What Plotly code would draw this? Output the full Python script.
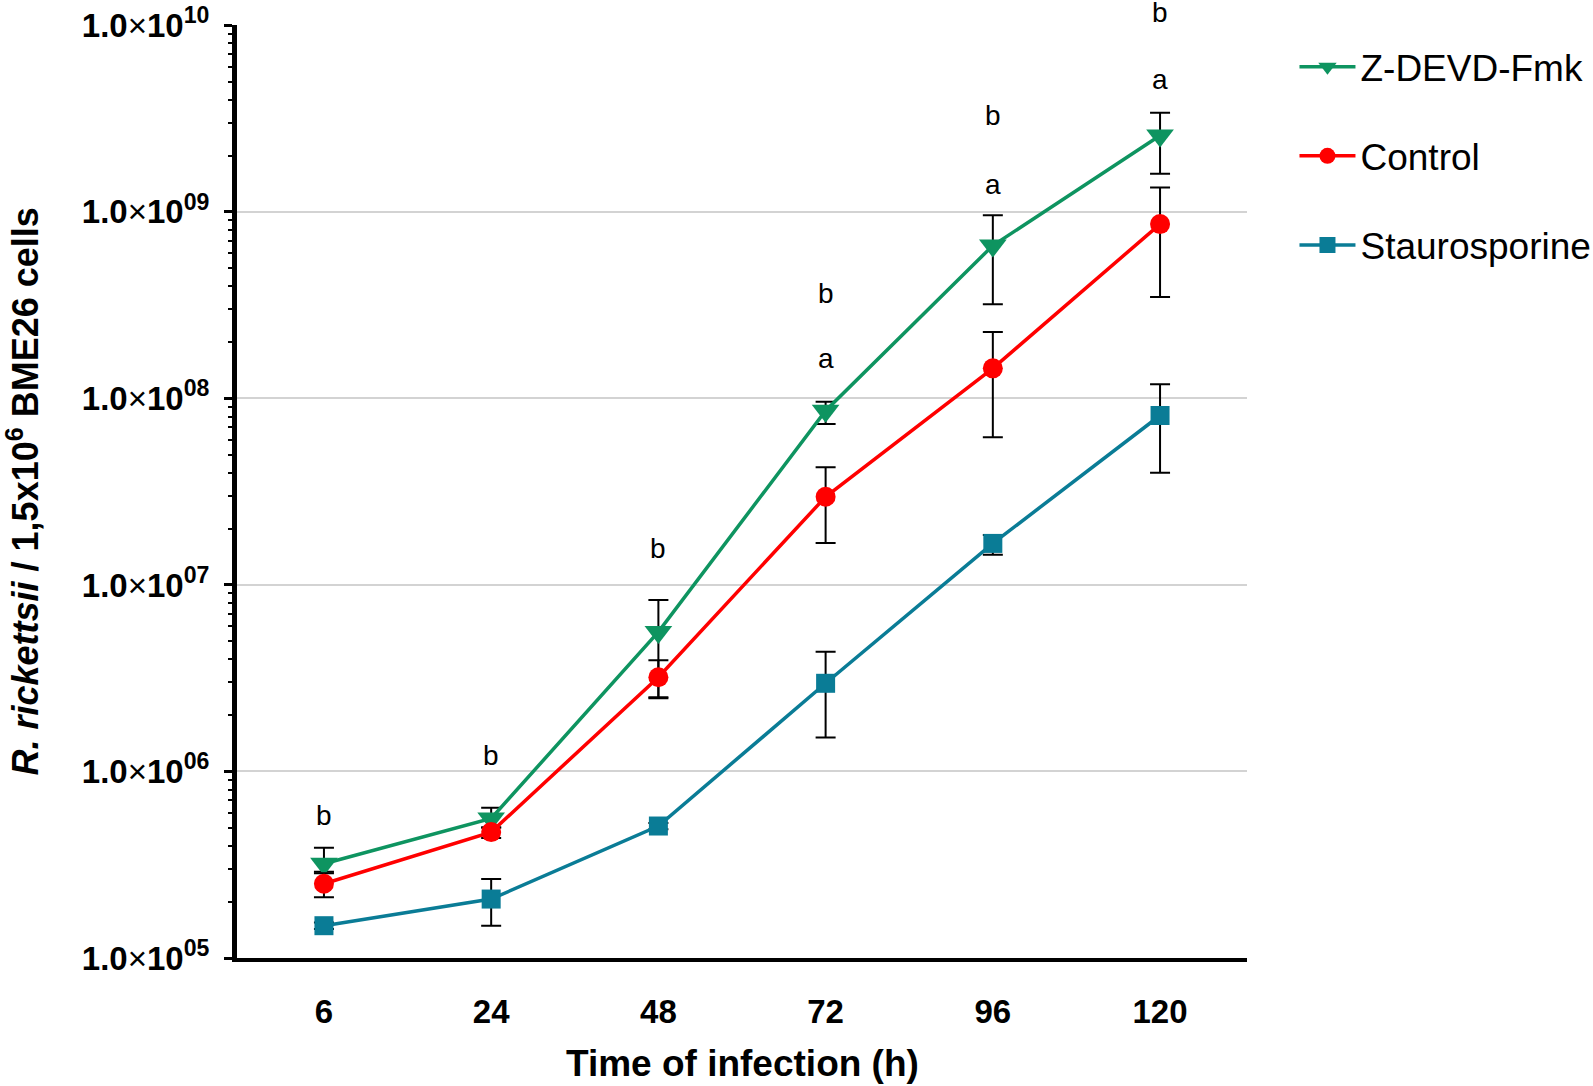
import numpy as np
import plotly.graph_objects as go

hours = ["6", "24", "48", "72", "96", "120"]

zdevd_mean = [3.2e5, 5.6e5, 5.6e6, 8.6e7, 6.6e8, 2.57e9]
zdevd_hi = [3.9e5, 6.4e5, 8.3e6, 9.6e7, 9.6e8, 3.4e9]
zdevd_lo = [2.9e5, 5.0e5, 2.5e6, 7.3e7, 3.2e8, 1.6e9]

control_mean = [2.5e5, 4.73e5, 3.2e6, 2.97e7, 1.45e8, 8.6e8]
control_hi = [2.85e5, 5.0e5, 3.95e6, 4.27e7, 2.27e8, 1.35e9]
control_lo = [2.12e5, 4.4e5, 2.47e6, 1.68e7, 6.2e7, 3.5e8]

stauro_mean = [1.49e5, 2.07e5, 5.1e5, 2.97e6, 1.67e7, 8.1e7]
stauro_hi = [1.55e5, 2.65e5, 5.3e5, 4.38e6, 1.85e7, 1.19e8]
stauro_lo = [1.43e5, 1.49e5, 4.9e5, 1.52e6, 1.45e7, 4.0e7]

letter_x = ["6", "24", "48", "72", "72", "96", "96", "120", "120"]
letter_text = ["b", "b", "b", "b", "a", "b", "a", "b", "a"]
letter_y = [5.8e5, 1.22e6, 1.56e7, 3.65e8, 1.64e8, 3.3e9, 1.4e9, 1.17e10, 5.1e9]

y_ticks = [1e5, 1e6, 1e7, 1e8, 1e9, 1e10]
y_exp = ["05", "06", "07", "08", "09", "10"]
y_ticktext = ["<b>1.0</b>×<b>10<sup>%s</sup></b>" % e for e in y_exp]

x_title = "<b>Time of infection (h)</b>"
y_title = "<b><i>R. rickettsii</i> / 1,5x10<sup>6</sup> BME26 cells</b>"

Y_MIN_EXP, Y_MAX_EXP = 5, 10.002

FONT = "Liberation Sans, Arial, sans-serif"
GREEN = "#0E9460"
RED = "#FF0000"
TEAL = "#0A7C96"

fig = go.Figure()

def add_series(name, mean, hi, lo, color, symbol, size, group):
    plus = [h - m for h, m in zip(hi, mean)]
    minus = [m - l for m, l in zip(mean, lo)]
    fig.add_trace(go.Scatter(
        x=hours, y=mean, name=name, mode="lines+markers",
        legendgroup=group,
        line=dict(color=color, width=3.5),
        marker=dict(color=color, symbol=symbol, size=size),
        error_y=dict(type="data", symmetric=False, array=plus, arrayminus=minus,
                     color="black", thickness=2, width=10),
        cliponaxis=False,
    ))

add_series("Z-DEVD-Fmk", zdevd_mean, zdevd_hi, zdevd_lo, GREEN, "triangle-down", 24, "a")
add_series("Control", control_mean, control_hi, control_lo, RED, "circle", 20, "b")
add_series("Staurosporine", stauro_mean, stauro_hi, stauro_lo, TEAL, "square", 19, "c")

for xt, tt, yt in zip(letter_x, letter_text, letter_y):
    ypaper = (float(np.log10(yt)) - Y_MIN_EXP) / (Y_MAX_EXP - Y_MIN_EXP)
    fig.add_annotation(x=hours.index(xt), y=ypaper, text=tt, showarrow=False,
                       xref="x", yref="paper", yanchor="middle", xanchor="center",
                       font=dict(family=FONT, size=28, color="black"))

# axis titles
fig.add_annotation(x=0.5, y=-0.1136, xref="paper", yref="paper", text=x_title,
                   showarrow=False, xanchor="center", yanchor="middle",
                   font=dict(family=FONT, size=37, color="black"))
fig.add_annotation(x=0, y=0.5, xref="paper", yref="paper", text=y_title,
                   showarrow=False, xanchor="center", yanchor="middle",
                   textangle=-90, xshift=-215,
                   font=dict(family=FONT, size=36, color="black"))

minor_vals = [m * 10 ** e for e in range(5, 10) for m in range(2, 10)]

fig.update_layout(
    width=1593, height=1086,
    margin=dict(l=237, r=346, t=25, b=128, autoexpand=False),
    plot_bgcolor="white", paper_bgcolor="white",
    font=dict(family=FONT, color="black"),
    showlegend=True,
    legend=dict(
        x=1.047, y=0.988, xanchor="left", yanchor="top",
        traceorder="grouped", tracegroupgap=38,
        font=dict(family=FONT, size=37, color="black"),
        itemwidth=56, bgcolor="rgba(0,0,0,0)",
    ),
    xaxis=dict(
        type="category", range=[-0.52, 5.52], automargin=False,
        showline=True, linecolor="black", linewidth=4,
        ticks="", showgrid=False, zeroline=False,
        tickfont=dict(family=FONT, size=33, color="black", weight="bold"),
        ticklabelstandoff=21,
    ),
    yaxis=dict(
        type="log", range=[Y_MIN_EXP, Y_MAX_EXP], automargin=False,
        tickmode="array", tickvals=y_ticks, ticktext=y_ticktext,
        ticklabeloverflow="allow",
        showline=True, linecolor="black", linewidth=5,
        ticks="outside", ticklen=8, tickwidth=3, tickcolor="black",
        minor=dict(tickmode="array", tickvals=minor_vals, ticks="outside",
                   ticklen=4, tickwidth=2, tickcolor="black", showgrid=False),
        showgrid=True, gridcolor="#D3D3D3", gridwidth=2,
        zeroline=False,
        tickfont=dict(family=FONT, size=33, color="black"),
        ticklabelstandoff=8,
    ),
)

fig.write_html("out.html", config={"displayModeBar": False},
               post_script="document.body.style.margin='0px';")
